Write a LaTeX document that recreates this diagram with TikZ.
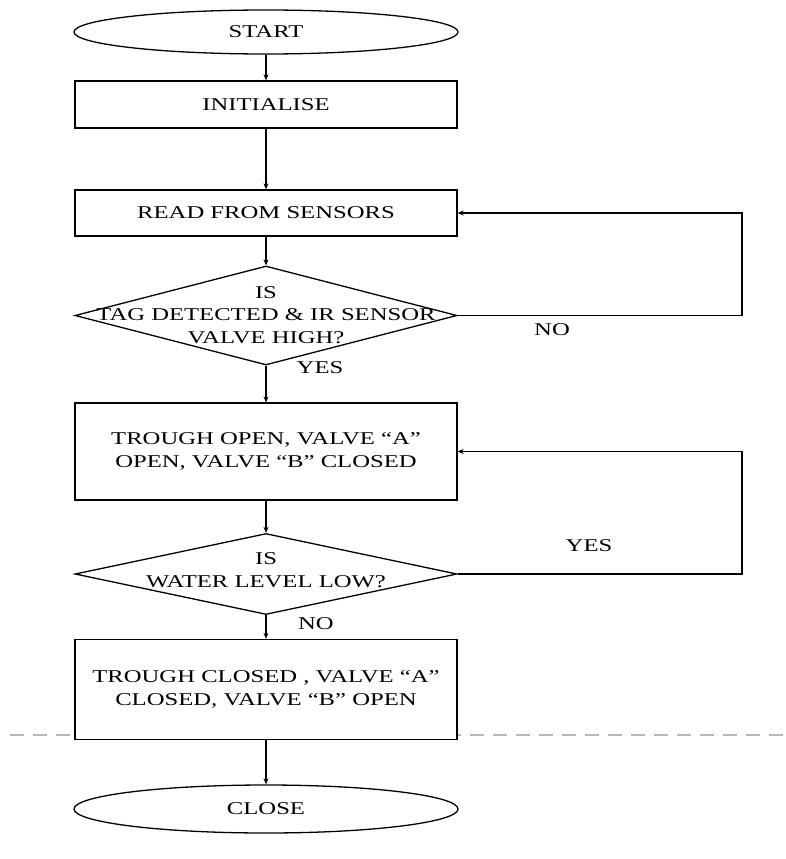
\documentclass[tikz,border=0pt]{standalone}
\usepackage{fontspec}
\setmainfont{Liberation Serif}[FakeStretch=1.37]
\usetikzlibrary{shapes.geometric,arrows.meta}
\begin{document}
\begin{tikzpicture}[x=1pt,y=-1pt,
  every node/.style={font=\fontsize{18}{23}\selectfont},
  line/.style={line width=1.3pt,draw=black},
  arr/.style={line, -{Stealth[length=6pt,width=5pt]}},
  box/.style={draw, line width=1.3pt, fill=white, minimum width=382pt, inner sep=0pt, align=center},
  term/.style={ellipse, draw, line width=1.3pt, minimum width=384pt, inner sep=0pt},
  dec/.style={diamond, draw, line width=1.3pt, minimum width=382pt, inner sep=0pt},
  txt/.style={align=center, inner sep=0pt},
  lab/.style={inner sep=0pt}]
\useasboundingbox (0,0) rectangle (785,859);
% dashed separator
\coordinate (dl) at (10,735);
\coordinate (dr) at (785,735);
\draw[gray!55, line width=1.2pt, dash pattern=on 14pt off 9pt] (dl) -- (dr);

\node[term, minimum height=44pt] (start) at (266,32) {START};
\node[box, minimum height=47pt] (init) at (266,104.5) {INITIALISE};
\node[box, minimum height=46pt] (read) at (266,213) {READ FROM SENSORS};
\node[dec, minimum height=99pt] (d1) at (266,315.5) {};
\node[txt, font=\fontsize{18}{22.5}\selectfont] (t1) at (266,315) {IS\\TAG DETECTED \& IR SENSOR\\VALVE HIGH?};
\node[box, minimum height=97pt] (open) at (266,451.5) {TROUGH OPEN, VALVE “A”\\OPEN, VALVE “B” CLOSED};
\node[dec, minimum height=81pt] (d2) at (266,574) {};
\node[txt] (t2) at (266,570) {IS\\WATER LEVEL LOW?};
\node[box, minimum height=100pt] (closed) at (266,689.5) {TROUGH CLOSED , VALVE “A”\\CLOSED, VALVE “B” OPEN};
\node[term, minimum height=48pt] (close) at (266,809) {CLOSE};

\coordinate (loopx) at (742,0);

\draw[arr] (start) -- (init);
\draw[arr] (init) -- (read);
\draw[arr] (read) -- (d1);
\draw[arr] (d1) -- (open);
\draw[arr] (open) -- (d2);
\draw[arr] (d2) -- (closed);
\draw[arr] (closed) -- (close);
\draw[arr] (d1.east) -- (d1.east -| loopx) -- (read.east -| loopx) -- (read.east);
\draw[arr] (d2.east) -- (d2.east -| loopx) -- (open.east -| loopx) -- (open.east);

\node[lab] (no1) at (552,330) {NO};
\node[lab] (yes1) at (320,368) {YES};
\node[lab] (yes2) at (589,546) {YES};
\node[lab] (no2) at (316,624) {NO};
\end{tikzpicture}
\end{document}
